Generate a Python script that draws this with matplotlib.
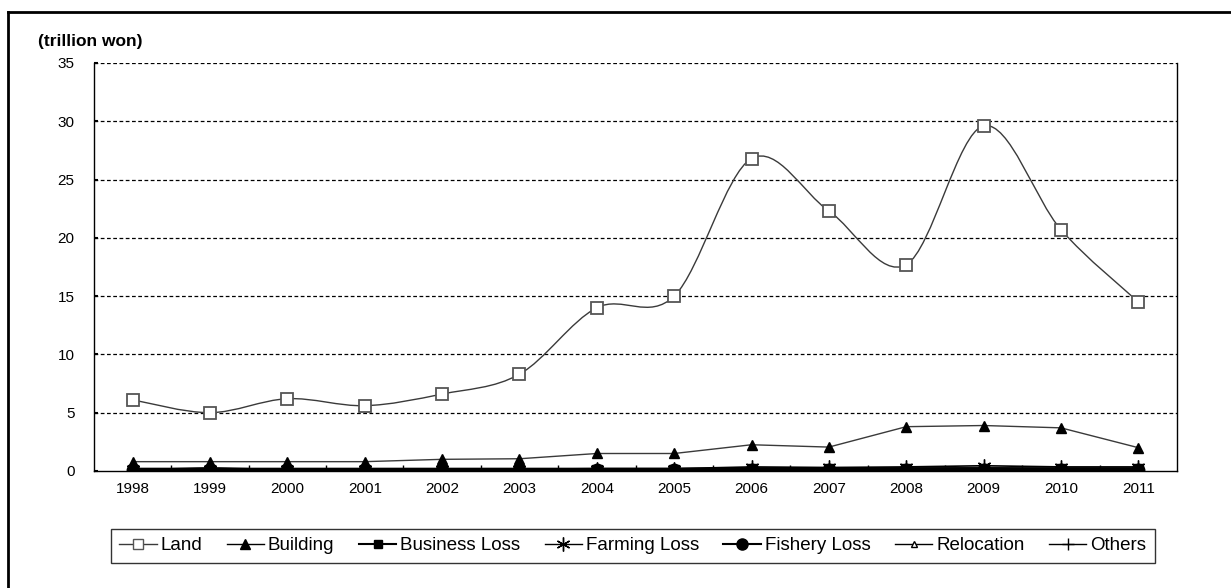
import matplotlib.pyplot as plt
from matplotlib.path import Path
from matplotlib.patches import PathPatch
from matplotlib.lines import Line2D
import numpy as np

plt.rcParams['font.family'] = ['Liberation Sans', 'DejaVu Sans']

years = ['1998', '1999', '2000', '2001', '2002', '2003', '2004',
         '2005', '2006', '2007', '2008', '2009', '2010', '2011']

land = [6.1, 5.0, 6.2, 5.6, 6.6, 8.3, 14.0, 15.0, 26.8, 22.3, 17.7, 29.6, 20.7, 14.5]
building = [0.8, 0.8, 0.8, 0.8, 1.0, 1.05, 1.5, 1.5, 2.25, 2.05, 3.8, 3.9, 3.7, 2.0]
business = [0.1, 0.1, 0.1, 0.1, 0.1, 0.1, 0.1, 0.1, 0.15, 0.15, 0.15, 0.15, 0.15, 0.15]
farming = [0.15, 0.2, 0.15, 0.15, 0.15, 0.15, 0.2, 0.2, 0.35, 0.3, 0.35, 0.45, 0.35, 0.35]
fishery = [0.05, 0.05, 0.05, 0.05, 0.05, 0.05, 0.05, 0.05, 0.05, 0.05, 0.05, 0.05, 0.05, 0.05]
relocation = [0.1, 0.3, 0.1, 0.1, 0.1, 0.1, 0.1, 0.1, 0.2, 0.15, 0.25, 0.3, 0.2, 0.2]
others = [0.2, 0.2, 0.2, 0.2, 0.2, 0.2, 0.2, 0.2, 0.2, 0.2, 0.2, 0.2, 0.2, 0.2]


def smooth_path(xs, ys):
    # bezier segments with catmull-rom style control points
    pts = np.column_stack([xs, ys]).astype(float)
    n = len(pts)
    verts = [pts[0]]
    codes = [Path.MOVETO]
    for i in range(n - 1):
        p0 = pts[i - 1] if i > 0 else pts[i]
        p1 = pts[i]
        p2 = pts[i + 1]
        p3 = pts[i + 2] if i + 2 < n else pts[i + 1]
        c1 = p1 + (p2 - p0) / 6.0
        c2 = p2 - (p3 - p1) / 6.0
        verts += [c1, c2, p2]
        codes += [Path.CURVE4] * 3
    return Path(verts, codes)


fig = plt.figure(figsize=(12.31, 5.88), dpi=100)
ax = fig.add_axes([0.0764, 0.199, 0.8797, 0.694])

x = np.arange(len(years))
line_col = '#3a3a3a'

# Land: smoothed curve + hollow squares
ax.add_patch(PathPatch(smooth_path(x, land), fill=False, edgecolor=line_col, lw=1.0, zorder=3))
ax.plot(x, land, ls='none', marker='s', ms=8, mfc='white', mec='#555555', mew=1.3, zorder=4)

ax.plot(x, building, color=line_col, lw=1.0, marker='^', ms=6.5, mfc='black', mec='black', zorder=4)
ax.plot(x, others, color='black', lw=1.2, marker='+', ms=8, zorder=4)
ax.plot(x, relocation, color=line_col, lw=1.0, marker='^', ms=4, mfc='white', mec='black', zorder=4)
ax.plot(x, farming, color='black', lw=1.2, marker=(6, 2, 0), ms=10, zorder=4)
ax.plot(x, business, color='black', lw=3, marker='s', ms=7, mfc='black', mec='black', zorder=4)
ax.plot(x, fishery, color='black', lw=3, marker='o', ms=9, mfc='black', mec='black', zorder=5)

ax.set_xlim(-0.5, len(years) - 0.5)
ax.set_ylim(0, 35)
ax.set_yticks(range(0, 36, 5))
ax.set_xticks(x)
ax.set_xticklabels(years)
ax.set_xticks(np.arange(0.5, len(years) - 1, 1.0), minor=True)
ax.tick_params(axis='x', which='major', length=0, labelsize=11, pad=8)
ax.tick_params(axis='x', which='minor', direction='in', length=4, width=1)
ax.tick_params(axis='y', direction='in', length=3, width=1.5, labelsize=11, pad=14)

for v in range(5, 36, 5):
    ax.axhline(v, color='black', lw=0.9, ls=(0, (3, 2)), zorder=1)

ax.spines['top'].set_visible(False)
for s in ['left', 'right', 'bottom']:
    ax.spines[s].set_linewidth(1.0)

fig.text(0.031, 0.929, '(trillion won)', fontsize=12.5, fontweight='bold', ha='left', va='center')

# outer frame
fig.add_artist(Line2D([0.0065, 1.0], [0.98, 0.98], transform=fig.transFigure, color='black', lw=2))
fig.add_artist(Line2D([0.0065, 0.0065], [0.0, 0.98], transform=fig.transFigure, color='black', lw=2))

handles = [
    Line2D([], [], color=line_col, lw=1, marker='s', ms=7, mfc='white', mec='#555555'),
    Line2D([], [], color='black', lw=1, marker='^', ms=7, mfc='black'),
    Line2D([], [], color='black', lw=1.5, marker='s', ms=6, mfc='black'),
    Line2D([], [], color='black', lw=1, marker=(6, 2, 0), ms=10),
    Line2D([], [], color='black', lw=1.5, marker='o', ms=8, mfc='black'),
    Line2D([], [], color='black', lw=1, marker='^', ms=5, mfc='white', mec='black'),
    Line2D([], [], color='black', lw=1, marker='+', ms=8),
]
labels = ['Land', 'Building', 'Business Loss', 'Farming Loss', 'Fishery Loss', 'Relocation', 'Others']
leg = fig.legend(handles, labels, loc='center', bbox_to_anchor=(0.514, 0.072), ncol=7,
                 fontsize=13.5, frameon=True, fancybox=False, edgecolor='black',
                 handlelength=2.0, handletextpad=0.2, columnspacing=1.3, borderpad=0.45)
leg.get_frame().set_linewidth(1.0)

fig.savefig('out.png', dpi=100)
